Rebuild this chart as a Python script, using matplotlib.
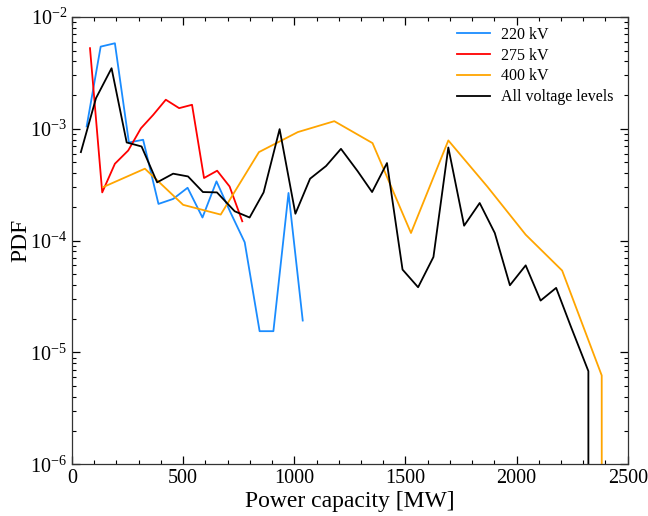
import matplotlib
matplotlib.use("Agg")
import matplotlib.pyplot as plt
from matplotlib.ticker import MultipleLocator, LogLocator, NullFormatter

plt.rcParams['font.family'] = ['Liberation Serif', 'DejaVu Serif']
plt.rcParams['mathtext.fontset'] = 'custom'
plt.rcParams['mathtext.rm'] = 'Liberation Serif'
plt.rcParams['mathtext.it'] = 'Liberation Serif:italic'

# 220 kV
x_220 = [66, 129, 193, 256, 320, 389, 455, 520, 587, 650, 714, 777, 844, 906, 974, 1038]
pdf_220 = [1.05e-3, 5.43e-3, 5.82e-3, 7.55e-4, 7.98e-4, 2.13e-4, 2.36e-4, 2.97e-4,
           1.61e-4, 3.39e-4, 1.77e-4, 9.66e-5, 1.55e-5, 1.55e-5, 2.67e-4, 1.93e-5]

# 275 kV
x_275 = [81, 136, 193, 253, 310, 365, 422, 482, 540, 594, 653, 709, 766]
pdf_275 = [5.26e-3, 2.70e-4, 4.87e-4, 6.40e-4, 1.01e-3, 1.33e-3, 1.82e-3, 1.53e-3,
           1.64e-3, 3.63e-4, 4.22e-4, 3.05e-4, 1.49e-4]

# 400 kV
x_400 = [140, 328, 500, 669, 841, 1016, 1180, 1352, 1525, 1693, 1868, 2041, 2205, 2383, 2560]
pdf_400 = [3.01e-4, 4.40e-4, 2.09e-4, 1.71e-4, 6.19e-4, 9.35e-4, 1.17e-3, 7.45e-4,
           1.17e-4, 7.87e-4, 3.05e-4, 1.13e-4, 5.40e-5, 6.23e-6, 0.0]

# All voltage levels
x_all = [40, 108, 178, 246, 313, 383, 455, 522, 589, 652, 732, 799, 862, 934, 1005,
         1071, 1143, 1210, 1285, 1350, 1417, 1487, 1557, 1626, 1693, 1764, 1834, 1902,
         1970, 2041, 2108, 2178, 2244, 2323, 2390]
pdf_all = [6.19e-4, 1.88e-3, 3.48e-3, 7.55e-4, 6.95e-4, 3.32e-4, 3.97e-4, 3.75e-4,
           2.72e-4, 2.70e-4, 1.83e-4, 1.61e-4, 2.70e-4, 9.93e-4, 1.74e-4, 3.58e-4,
           4.65e-4, 6.62e-4, 4.18e-4, 2.72e-4, 4.94e-4, 5.51e-5, 3.83e-5, 7.14e-5,
           6.81e-4, 1.36e-4, 2.17e-4, 1.17e-4, 3.99e-5, 6.01e-5, 2.91e-5, 3.78e-5,
           1.71e-5, 6.81e-6, 0.0]

fig = plt.figure(figsize=(6.48, 5.16), dpi=100)
ax = fig.add_axes([0.1111, 0.1002, 0.8576, 0.8669])

lw = 1.3
ax.plot(x_220, pdf_220, color='#1a8cff', lw=lw, label='220 kV')
ax.plot(x_275, pdf_275, color='#ff0000', lw=lw, label='275 kV')
ax.plot(x_400, pdf_400, color='#ffa500', lw=lw, label='400 kV')
ax.plot(x_all, pdf_all, color='black', lw=lw, label='All voltage levels')

ax.set_yscale('log', nonpositive='clip')
ax.set_xlim(0, 2500)
ax.set_ylim(1e-6, 1e-2)

ax.xaxis.set_major_locator(MultipleLocator(500))
ax.xaxis.set_minor_locator(MultipleLocator(100))
ax.yaxis.set_major_locator(LogLocator(base=10, numticks=10))
ax.yaxis.set_minor_locator(LogLocator(base=10, subs=range(2, 10), numticks=50))
ax.yaxis.set_minor_formatter(NullFormatter())

ax.tick_params(which='both', direction='in', top=True, right=True, labelsize=14.5)
ax.tick_params(which='major', length=6, width=0.9)
ax.tick_params(which='minor', length=3, width=0.8)
for s in ax.spines.values():
    s.set_linewidth(0.9)
    s.set_color('#333333')

ax.set_xlabel('Power capacity [MW]', fontsize=17, labelpad=2)
ax.set_ylabel('PDF', fontsize=17, labelpad=-1)

ax.legend(loc='upper left', frameon=False, fontsize=11.5, handlelength=2.07,
          handletextpad=0.73, borderpad=0, borderaxespad=0,
          bbox_to_anchor=(0.692, 0.978), labelspacing=0.3)

fig.savefig('out.png', dpi=100)
